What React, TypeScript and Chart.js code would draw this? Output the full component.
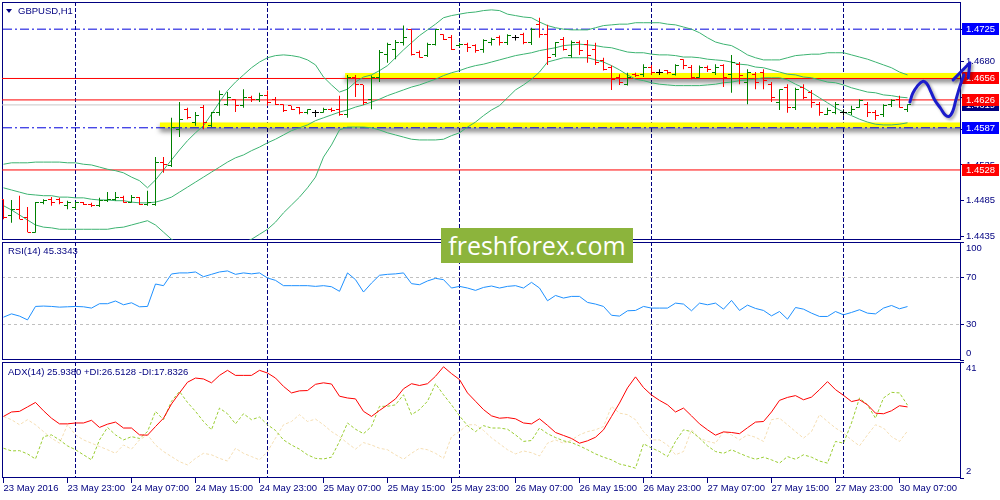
import React, { useEffect, useRef } from 'react';
import { Chart, registerables } from 'chart.js';

Chart.register(...registerables);

// ---------- OHLC (GBPUSD, H1) ----------
const OPEN = [1.4486,1.4464,1.4473,1.4461,1.4441,1.4482,1.4486,1.4487,1.4478,1.4476,
1.4482,1.4480,1.4478,1.4485,1.4486,1.4490,1.4483,1.4489,1.4479,1.4479,
1.4539,1.4534,1.4585,1.4612,1.4595,1.4616,1.4590,1.4608,1.4620,1.4626,
1.4618,1.4630,1.4626,1.4632,1.4627,1.4619,1.4618,1.4615,1.4609,1.4608,
1.4609,1.4613,1.4612,1.4606,1.4658,1.4647,1.4626,1.4658,1.4689,1.4696,
1.4707,1.4724,1.4693,1.4688,1.4704,1.4717,1.4714,1.4702,1.4704,1.4702,
1.4696,1.4706,1.4713,1.4706,1.4713,1.4717,1.4707,1.4731,1.4717,1.4689,
1.4711,1.4688,1.4706,1.4703,1.4696,1.4681,1.4671,1.4658,1.4648,1.4662,
1.4662,1.4671,1.4665,1.4667,1.4662,1.4682,1.4671,1.4658,1.4672,1.4664,
1.4674,1.4661,1.4676,1.4651,1.4661,1.4664,1.4648,1.4622,1.4643,1.4616,
1.4643,1.4637,1.4620,1.4606,1.4609,1.4608,1.4608,1.4616,1.4620,1.4609,
1.4606,1.4619,1.4627,1.4612];
const HIGH = [1.4487,1.4486,1.4492,1.4476,1.4483,1.4487,1.4490,1.4489,1.4485,1.4483,
1.4483,1.4482,1.4489,1.4497,1.4497,1.4492,1.4493,1.4490,1.4499,1.4546,
1.4546,1.4601,1.4623,1.4615,1.4609,1.4619,1.4609,1.4639,1.4637,1.4627,
1.4641,1.4632,1.4636,1.4639,1.4630,1.4620,1.4618,1.4616,1.4613,1.4612,
1.4615,1.4615,1.4632,1.4661,1.4661,1.4647,1.4660,1.4696,1.4706,1.4710,
1.4730,1.4725,1.4695,1.4706,1.4725,1.4718,1.4717,1.4706,1.4706,1.4704,
1.4711,1.4713,1.4716,1.4718,1.4717,1.4720,1.4727,1.4741,1.4731,1.4707,
1.4714,1.4709,1.4709,1.4710,1.4706,1.4685,1.4674,1.4662,1.4664,1.4664,
1.4676,1.4675,1.4669,1.4668,1.4676,1.4683,1.4675,1.4674,1.4674,1.4676,
1.4676,1.4689,1.4679,1.4669,1.4665,1.4669,1.4651,1.4641,1.4648,1.4643,
1.4648,1.4640,1.4623,1.4615,1.4623,1.4613,1.4618,1.4627,1.4623,1.4612,
1.4620,1.4627,1.4632,1.4620];
const LOW = [1.4459,1.4454,1.4459,1.4441,1.4440,1.4480,1.4478,1.4480,1.4473,1.4473,
1.4479,1.4476,1.4476,1.4483,1.4485,1.4482,1.4482,1.4479,1.4478,1.4478,
1.4524,1.4532,1.4574,1.4599,1.4590,1.4585,1.4588,1.4604,1.4618,1.4609,
1.4615,1.4623,1.4623,1.4618,1.4619,1.4609,1.4612,1.4606,1.4606,1.4602,
1.4608,1.4609,1.4604,1.4601,1.4630,1.4619,1.4613,1.4651,1.4678,1.4683,
1.4702,1.4688,1.4685,1.4686,1.4702,1.4710,1.4696,1.4700,1.4693,1.4692,
1.4692,1.4702,1.4702,1.4703,1.4709,1.4704,1.4703,1.4713,1.4675,1.4686,
1.4695,1.4685,1.4689,1.4678,1.4675,1.4667,1.4640,1.4647,1.4646,1.4658,
1.4658,1.4661,1.4661,1.4662,1.4660,1.4669,1.4655,1.4657,1.4665,1.4661,
1.4644,1.4636,1.4648,1.4620,1.4641,1.4641,1.4623,1.4612,1.4608,1.4612,
1.4627,1.4615,1.4604,1.4605,1.4606,1.4604,1.4605,1.4615,1.4602,1.4598,
1.4602,1.4616,1.4615,1.4609];
const CLOSE = [1.4461,1.4472,1.4459,1.4441,1.4482,1.4485,1.4482,1.4482,1.4483,1.4482,
1.4479,1.4478,1.4485,1.4487,1.4490,1.4482,1.4489,1.4480,1.4482,1.4539,
1.4535,1.4588,1.4599,1.4601,1.4604,1.4595,1.4608,1.4634,1.4629,1.4618,
1.4630,1.4626,1.4632,1.4622,1.4620,1.4611,1.4612,1.4609,1.4612,1.4608,
1.4612,1.4611,1.4606,1.4658,1.4648,1.4623,1.4658,1.4693,1.4703,1.4707,
1.4714,1.4689,1.4686,1.4703,1.4724,1.4711,1.4696,1.4704,1.4699,1.4695,
1.4709,1.4711,1.4706,1.4716,1.4713,1.4707,1.4725,1.4718,1.4686,1.4706,
1.4697,1.4706,1.4695,1.4688,1.4679,1.4668,1.4654,1.4650,1.4657,1.4660,
1.4672,1.4664,1.4665,1.4664,1.4674,1.4674,1.4657,1.4672,1.4668,1.4672,
1.4658,1.4678,1.4660,1.4664,1.4650,1.4653,1.4630,1.4640,1.4615,1.4640,
1.4629,1.4623,1.4608,1.4611,1.4619,1.4608,1.4612,1.4625,1.4609,1.4604,
1.4618,1.4625,1.4616,1.4619];

// ---------- Bollinger Bands ----------
const BB_UP = [1.4536,1.4538,1.4538,1.4538,1.4539,1.4539,1.4539,1.4539,1.4538,1.4538,
1.4536,1.4535,1.4532,1.4529,1.4527,1.4524,1.4518,1.4513,1.4503,1.4514,
1.4528,1.4542,1.4556,1.4569,1.4580,1.4590,1.4606,1.4623,1.4639,1.4651,
1.4661,1.4671,1.4679,1.4685,1.4688,1.4689,1.4688,1.4686,1.4682,1.4675,
1.4658,1.4647,1.4637,1.4641,1.4651,1.4658,1.4661,1.4667,1.4674,1.4685,
1.4696,1.4706,1.4716,1.4724,1.4732,1.4741,1.4744,1.4746,1.4748,1.4749,
1.4751,1.4752,1.4751,1.4746,1.4744,1.4742,1.4741,1.4735,1.4730,1.4727,
1.4725,1.4724,1.4724,1.4724,1.4727,1.4730,1.4731,1.4732,1.4732,1.4734,
1.4734,1.4734,1.4734,1.4732,1.4731,1.4728,1.4725,1.4720,1.4713,1.4707,
1.4704,1.4702,1.4696,1.4689,1.4685,1.4682,1.4682,1.4682,1.4685,1.4688,
1.4689,1.4690,1.4690,1.4692,1.4692,1.4692,1.4689,1.4686,1.4683,1.4679,
1.4675,1.4671,1.4665,1.4661];
const BB_MID = [1.4503,1.4500,1.4497,1.4494,1.4493,1.4492,1.4492,1.4490,1.4490,1.4489,
1.4489,1.4487,1.4486,1.4486,1.4485,1.4485,1.4483,1.4482,1.4482,1.4483,
1.4486,1.4490,1.4497,1.4504,1.4511,1.4518,1.4525,1.4532,1.4539,1.4545,
1.4549,1.4555,1.4560,1.4566,1.4571,1.4577,1.4583,1.4587,1.4591,1.4597,
1.4601,1.4605,1.4609,1.4612,1.4616,1.4619,1.4623,1.4627,1.4632,1.4636,
1.4640,1.4644,1.4647,1.4651,1.4655,1.4660,1.4664,1.4667,1.4671,1.4674,
1.4676,1.4679,1.4682,1.4685,1.4688,1.4690,1.4692,1.4695,1.4697,1.4699,
1.4702,1.4703,1.4704,1.4703,1.4702,1.4700,1.4699,1.4696,1.4693,1.4692,
1.4692,1.4690,1.4689,1.4689,1.4688,1.4686,1.4686,1.4685,1.4683,1.4682,
1.4681,1.4679,1.4676,1.4675,1.4672,1.4671,1.4668,1.4665,1.4662,1.4661,
1.4658,1.4657,1.4654,1.4651,1.4650,1.4647,1.4643,1.4640,1.4637,1.4636,
1.4633,1.4632,1.4630,1.4629];
const BB_LOW = [1.4478,1.4472,1.4465,1.4458,1.4451,1.4448,1.4447,1.4445,1.4445,1.4445,
1.4445,1.4445,1.4445,1.4445,1.4447,1.4448,1.4451,1.4454,1.4457,1.4451,
1.4441,1.4431,1.4424,1.4420,1.4417,1.4416,1.4416,1.4417,1.4419,1.4422,
1.4426,1.4431,1.4438,1.4445,1.4455,1.4468,1.4479,1.4490,1.4503,1.4518,
1.4546,1.4563,1.4584,1.4588,1.4588,1.4588,1.4587,1.4584,1.4580,1.4577,
1.4574,1.4571,1.4570,1.4570,1.4570,1.4571,1.4576,1.4580,1.4588,1.4595,
1.4604,1.4612,1.4618,1.4629,1.4640,1.4647,1.4655,1.4665,1.4679,1.4682,
1.4685,1.4685,1.4685,1.4685,1.4682,1.4679,1.4674,1.4668,1.4661,1.4655,
1.4653,1.4650,1.4648,1.4647,1.4646,1.4646,1.4646,1.4646,1.4647,1.4648,
1.4650,1.4651,1.4653,1.4654,1.4655,1.4657,1.4657,1.4657,1.4654,1.4648,
1.4643,1.4636,1.4629,1.4622,1.4615,1.4609,1.4604,1.4599,1.4595,1.4592,
1.4591,1.4591,1.4592,1.4594];

// ---------- RSI(14) ----------
const RSI = [36.3,39.1,37.2,34.0,45.4,45.7,45.4,44.8,45.1,45.4,
45.1,44.0,47.7,47.7,50.0,46.8,48.5,45.1,45.4,64.4,
63.0,72.9,73.8,73.8,74.6,70.6,72.6,74.6,75.5,72.6,
73.8,73.0,73.8,69.5,67.5,63.0,63.0,63.0,63.0,62.4,
63.0,62.1,58.2,73.8,68.1,57.6,65.2,71.8,72.6,73.0,
73.8,64.7,63.8,67.0,69.2,68.1,61.0,62.4,61.0,59.0,
61.5,62.7,61.0,62.4,63.0,61.0,65.8,61.0,50.2,54.7,
52.5,53.9,53.9,48.8,47.4,45.4,37.9,37.2,41.7,42.0,
45.4,44.0,44.0,44.0,48.2,47.4,41.7,48.2,46.8,48.2,
43.1,50.5,42.0,46.5,43.7,42.0,37.4,41.1,34.6,44.5,
43.1,39.7,36.9,36.9,41.1,38.3,40.3,42.6,39.7,39.1,
44.0,46.2,43.4,45.3];

// ---------- ADX(14), +DI, -DI ----------
const ADX = [22.7,24.2,24.4,25.9,27.4,24.6,22.1,20.2,20.2,20.5,
20.5,21.4,19.0,20.1,20.8,18.8,18.8,16.5,16.4,19.3,
22.1,26.9,30.6,34.2,35.6,35.3,34.0,36.5,38.2,36.5,
36.5,36.5,38.2,37.3,35.6,32.8,30.6,31.3,31.4,33.5,
34.0,33.6,29.5,28.9,28.6,24.4,22.7,24.7,26.6,28.6,
32.0,33.7,33.1,33.7,36.2,39.4,37.1,35.1,30.6,27.8,
25.0,22.9,22.1,22.3,21.9,20.5,20.2,21.9,19.7,17.3,
16.3,15.3,13.7,14.5,15.7,18.2,22.7,27.2,32.3,36.0,
32.4,29.9,28.1,26.6,24.2,25.5,22.9,20.2,18.2,16.4,
17.5,17.3,16.9,18.9,20.8,21.0,24.2,28.1,29.1,29.7,
28.3,29.2,31.7,34.4,31.7,29.8,27.7,28.3,26.6,23.8,
23.6,24.6,26.3,25.9];
const PLUS_DI = [12.0,11.1,11.2,10.1,8.4,15.9,16.5,14.8,12.8,11.5,
9.8,8.1,14.8,19.0,16.5,14.8,15.9,15.3,17.6,24.4,
21.6,27.8,31.1,27.4,24.4,21.0,18.2,25.5,23.6,20.2,
23.6,21.6,22.5,19.9,18.0,14.8,13.1,11.7,9.8,8.6,
8.4,9.0,14.3,20.5,18.4,16.9,19.3,26.1,26.1,26.6,
30.0,23.3,25.0,27.8,33.7,30.0,26.6,22.9,19.6,17.6,
19.6,18.8,18.8,18.4,16.5,14.3,14.6,18.8,16.9,15.6,
14.5,13.9,12.8,11.5,10.1,9.0,8.1,6.7,6.1,5.3,
13.5,12.1,10.9,9.2,14.3,18.2,17.6,15.4,12.8,10.9,
10.3,11.5,10.3,9.2,8.3,9.0,8.1,7.0,9.2,8.3,
9.8,9.0,7.7,7.0,14.3,13.7,20.5,28.9,26.6,22.1,
28.9,30.8,30.6,26.5];
const MINUS_DI = [22.7,21.6,19.9,21.6,19.9,17.6,15.4,13.7,19.9,16.5,
14.8,13.7,12.6,11.5,10.3,13.1,11.7,14.8,16.5,13.1,
10.9,9.2,7.5,6.4,8.6,10.3,9.8,8.6,7.7,12.0,
10.3,9.2,8.1,10.9,15.4,19.9,21.0,23.3,21.0,21.8,
19.9,17.6,15.9,13.7,11.7,13.9,13.1,12.0,11.5,9.8,
8.3,10.3,12.0,11.5,10.3,8.6,15.9,17.6,19.9,19.9,
18.0,15.5,13.5,11.5,10.1,11.1,10.5,9.4,13.7,14.8,
13.7,14.8,16.5,17.6,18.2,19.3,26.1,23.8,23.3,21.6,
17.6,14.8,14.8,13.1,9.8,10.9,18.2,15.4,14.3,13.7,
17.6,16.5,14.8,16.5,15.7,14.3,21.6,22.1,19.9,17.6,
15.4,17.6,23.3,21.0,18.8,17.1,14.8,12.8,16.5,19.9,
18.8,15.9,14.3,17.8];

// ---------- axes / levels / annotations ----------
const TIME_TICKS = [0, 8, 16, 24, 32, 40, 48, 56, 64, 72, 80, 88, 96, 104, 112];
const TIME_LABELS = ['23 May 2016', '23 May 23:00', '24 May 07:00', '24 May 15:00', '24 May 23:00',
  '25 May 07:00', '25 May 15:00', '25 May 23:00', '26 May 07:00', '26 May 15:00', '26 May 23:00',
  '27 May 07:00', '27 May 15:00', '27 May 23:00', '30 May 07:00'];
const DAY_GRID = [9, 33, 57, 81, 105];
const PRICE_TICKS = [1.4725, 1.4680, 1.4630, 1.4585, 1.4535, 1.4485, 1.4435];
const RSI_TICKS = [100, 70, 30, 0];
const RSI_LEVELS = [70, 30];
const ADX_TICKS = [41, 2];
const RED_LEVELS = [1.4656, 1.4626, 1.4528];
const BLUE_LEVELS = [1.4725, 1.4587];
const BID = 1.4619;
const ZONE_PRICES = [1.4660, 1.4591];
const ZONE_STARTS = [42.7, 19.55];
const TAG_VALUES = [1.4725, 1.4587, 1.4619, 1.4656, 1.4626, 1.4528];
const TAG_KINDS = ['blue', 'blue', 'bid', 'red', 'red', 'red'];
const ARROW_X = [113.3, 113.65, 114.2, 114.9, 115.4, 115.9, 116.4, 117.15, 117.7, 118.2, 118.65, 119.05, 119.55, 120.05, 120.5, 120.8];
const ARROW_Y = [1.4623, 1.4635, 1.4645, 1.4652, 1.4649, 1.4638, 1.4626, 1.4614, 1.4605, 1.4603, 1.4610, 1.4626, 1.4645, 1.4661, 1.4672, 1.4678];
const HEAD_X = [118.7, 120.8, 120.6];
const HEAD_Y = [1.4654, 1.4678, 1.4657];

// ---------- styles ----------
const NAVY = '#000080';
const FONT = "'Liberation Sans', Arial, sans-serif";
const GREEN = '#008000';
const RED = '#ff0000';
const BB_COLOR = '#3cb371';
const TAG_COLORS: Record<string, string> = { blue: '#0000ff', bid: '#000080', red: '#ff0000' };
const X_MIN = -0.1875;
const X_MAX = 119.5625;
const P_MIN = 1.443;
const P_MAX = 1.4763;

const barColor = (i: number) => (CLOSE[i] > OPEN[i] ? GREEN : CLOSE[i] < OPEN[i] ? RED : '#000000');
const pts = (arr: number[]) => arr.map((v, i) => ({ x: i, y: v }));
const hline = (v: number) => [{ x: X_MIN - 2, y: v }, { x: X_MAX + 2, y: v }];

const framePlugin = {
  id: 'frame',
  beforeDatasetsDraw(chart: any) {
    const { ctx, chartArea: a } = chart;
    ctx.save();
    ctx.strokeStyle = NAVY;
    ctx.lineWidth = 1;
    ctx.strokeRect(a.left + 0.5, a.top + 0.5, a.right - a.left, a.bottom - a.top - 1);
    ctx.restore();
  },
};

const shadowPlugin = {
  id: 'shadow',
  beforeDatasetDraw(chart: any, args: any) {
    const ds = chart.data.datasets[args.index];
    if (!ds.shadow) return;
    const ctx = chart.ctx;
    ctx.save();
    ctx.shadowColor = ds.shadow.color;
    ctx.shadowBlur = ds.shadow.blur;
    ctx.shadowOffsetX = ds.shadow.dx;
    ctx.shadowOffsetY = ds.shadow.dy;
  },
  afterDatasetDraw(chart: any, args: any) {
    const ds = chart.data.datasets[args.index];
    if (!ds.shadow) return;
    chart.ctx.restore();
  },
};

const ohlcPlugin = {
  id: 'ohlc',
  afterDatasetDraw(chart: any, args: any) {
    const ds = chart.data.datasets[args.index];
    if (!ds.ohlc) return;
    const { ctx, chartArea: a } = chart;
    const xs = chart.scales.x;
    const ys = chart.scales.y;
    ctx.save();
    ctx.beginPath();
    ctx.rect(a.left, a.top, a.right - a.left, a.bottom - a.top);
    ctx.clip();
    for (let i = 0; i < OPEN.length; i++) {
      const x = Math.round(xs.getPixelForValue(i) - 0.5);
      ctx.fillStyle = barColor(i);
      ctx.fillRect(x - 3, Math.round(ys.getPixelForValue(OPEN[i]) - 0.5), 3, 1);
      ctx.fillRect(x + 1, Math.round(ys.getPixelForValue(CLOSE[i]) - 0.5), 3, 1);
    }
    ctx.restore();
  },
};

const tagPlugin = {
  id: 'tags',
  beforeDatasetsDraw(chart: any) {
    const { ctx, chartArea: a } = chart;
    const ys = chart.scales.y;
    ctx.save();
    ctx.font = `9.5px ${FONT}`;
    ctx.textBaseline = 'middle';
    ctx.textAlign = 'left';
    TAG_VALUES.forEach((v, k) => {
      const y = Math.round(ys.getPixelForValue(v));
      ctx.fillStyle = TAG_COLORS[TAG_KINDS[k]];
      ctx.fillRect(a.right + 2, y - 6, 37, 12);
      ctx.fillStyle = '#ffffff';
      ctx.fillText(v.toFixed(4), a.right + 6, y + 0.5);
    });
    ctx.restore();
  },
};

const baseOptions = (padding: any) => ({
  responsive: false,
  animation: false,
  devicePixelRatio: 1,
  events: [],
  layout: { padding },
  plugins: { legend: { display: false }, tooltip: { enabled: false } },
  elements: { point: { radius: 0 }, line: { tension: 0, borderWidth: 1 } },
});

const gridX = () => ({
  type: 'linear',
  position: 'bottom',
  min: X_MIN,
  max: X_MAX,
  offset: false,
  afterBuildTicks: (s: any) => { s.ticks = DAY_GRID.map((v) => ({ value: v })); },
  afterFit: (s: any) => { s.height = 0; s.paddingLeft = 0; s.paddingRight = 0; },
  ticks: { display: false },
  grid: { color: NAVY, lineWidth: 1, drawTicks: false, offset: false },
  border: { display: false, dash: [4, 2] },
});

const tickFont = { family: FONT, size: 9.5, lineHeight: 1.4 };

const rightY = (min: number, max: number, ticks: number[], cb: (v: number) => any, grid: any = {}, dash: number[] = []) => ({
  type: 'linear',
  position: 'right',
  min,
  max,
  beginAtZero: false,
  afterBuildTicks: (s: any) => { s.ticks = ticks.map((v) => ({ value: v })); },
  afterFit: (s: any) => { s.width = 40; s.paddingTop = 0; s.paddingBottom = 0; },
  ticks: { autoSkip: false, padding: 2, color: NAVY, font: tickFont, callback: (v: any) => cb(Number(v)) },
  grid: { drawOnChartArea: false, drawTicks: true, tickLength: 4, tickColor: NAVY, color: NAVY, ...grid },
  border: { display: false, dash },
});

const lineDs = (data: any, color: string, order: number, extra: any = {}) => ({
  type: 'line', data, borderColor: color, borderWidth: 1, pointRadius: 0, fill: false, order, ...extra,
});

function mainConfig(): any {
  const datasets: any[] = [
    lineDs(ARROW_X.map((x, i) => ({ x, y: ARROW_Y[i] })), '#1c1ccc', 0, {
      borderWidth: 3, tension: 0.4, clip: false, borderCapStyle: 'round', borderJoinStyle: 'round',
      shadow: { color: 'rgba(0,0,0,0.35)', blur: 3, dx: 2, dy: 2 },
    }),
    lineDs(HEAD_X.map((x, i) => ({ x, y: HEAD_Y[i] })), '#1c1ccc', 0, {
      borderWidth: 3, clip: false, borderCapStyle: 'round', borderJoinStyle: 'round',
      shadow: { color: 'rgba(0,0,0,0.35)', blur: 3, dx: 2, dy: 2 },
    }),
    {
      type: 'bar',
      data: HIGH.map((h, i) => ({ x: i, y: [LOW[i], h] })),
      backgroundColor: HIGH.map((_, i) => barColor(i)),
      borderWidth: 0,
      barThickness: 1,
      inflateAmount: 0,
      order: 1,
      ohlc: true,
    },
    lineDs(pts(BB_UP), BB_COLOR, 2),
    lineDs(pts(BB_MID), BB_COLOR, 2),
    lineDs(pts(BB_LOW), BB_COLOR, 2),
    ...RED_LEVELS.map((v) => lineDs(hline(v), RED, 3)),
    ...BLUE_LEVELS.map((v) => lineDs(hline(v), '#0000dd', 3, { borderDash: [9, 3, 2, 3] })),
    lineDs(hline(BID), '#c8c8c8', 3),
    ...ZONE_PRICES.map((v, k) => lineDs([{ x: ZONE_STARTS[k], y: v }, { x: X_MAX + 2, y: v }], '#ffff00', 4, {
      borderWidth: 5, borderCapStyle: 'butt',
      shadow: { color: 'rgba(0,0,0,0.55)', blur: 5, dx: 0, dy: 4 },
    })),
  ];
  return {
    type: 'line',
    data: { datasets },
    options: {
      ...baseOptions({ left: 2, top: 2, right: 0, bottom: 260 }),
      scales: {
        x: gridX(),
        y: rightY(P_MIN, P_MAX, PRICE_TICKS, (v) => v.toFixed(4)),
      },
    },
    plugins: [framePlugin, tagPlugin, shadowPlugin, ohlcPlugin],
  };
}

function rsiConfig(): any {
  return {
    type: 'line',
    data: { datasets: [lineDs(pts(RSI), '#1e90ff', 0)] },
    options: {
      ...baseOptions({ left: 2, top: 242, right: 0, bottom: 140 }),
      scales: {
        x: gridX(),
        y: rightY(0, 100, RSI_TICKS,
          (v) => (v === 100 ? ['', '100'] : v === 0 ? ['0', ''] : String(v)),
          {
            drawOnChartArea: true,
            color: (c: any) => (c.tick && RSI_LEVELS.includes(c.tick.value) ? '#c0c0c0' : 'rgba(0,0,0,0)'),
          },
          [3, 3]),
      },
    },
    plugins: [framePlugin],
  };
}

function adxConfig(): any {
  return {
    type: 'line',
    data: {
      datasets: [
        lineDs(pts(ADX), '#ff0000', 0),
        lineDs(pts(PLUS_DI), '#9acd32', 1, { borderDash: [3, 2] }),
        lineDs(pts(MINUS_DI), '#f5deb3', 2, { borderDash: [3, 2] }),
      ],
    },
    options: {
      ...baseOptions({ left: 2, top: 362, right: 0, bottom: 0 }),
      scales: {
        x: gridX(),
        xl: {
          type: 'linear',
          position: 'bottom',
          min: X_MIN,
          max: X_MAX,
          offset: false,
          afterBuildTicks: (s: any) => { s.ticks = TIME_TICKS.map((v) => ({ value: v })); },
          afterFit: (s: any) => { s.height = 22; s.paddingLeft = 0; s.paddingRight = 0; },
          ticks: {
            autoSkip: false, maxRotation: 0, minRotation: 0, align: 'start', padding: 0,
            color: NAVY, font: { family: FONT, size: 9.5 },
            callback: (v: any) => {
              const k = TIME_TICKS.indexOf(Number(v));
              return k >= 0 ? TIME_LABELS[k] : '';
            },
          },
          grid: { drawOnChartArea: false, drawTicks: true, tickLength: 5, tickColor: NAVY, color: NAVY, offset: false },
          border: { display: false },
        },
        y: rightY(2, 41, ADX_TICKS, (v) => (v === 41 ? ['', '41'] : ['2', ''])),
      },
    },
    plugins: [framePlugin],
  };
}

const textStyle: React.CSSProperties = {
  position: 'absolute',
  fontFamily: FONT,
  fontSize: '9.5px',
  lineHeight: '12px',
  color: NAVY,
  whiteSpace: 'nowrap',
};

export default function App() {
  const mainRef = useRef<HTMLCanvasElement>(null);
  const rsiRef = useRef<HTMLCanvasElement>(null);
  const adxRef = useRef<HTMLCanvasElement>(null);

  useEffect(() => {
    const charts = [
      new Chart(mainRef.current as HTMLCanvasElement, mainConfig()),
      new Chart(rsiRef.current as HTMLCanvasElement, rsiConfig()),
      new Chart(adxRef.current as HTMLCanvasElement, adxConfig()),
    ];
    return () => charts.forEach((c) => c.destroy());
  }, []);

  const cv: React.CSSProperties = { position: 'absolute', left: 0, top: 0, width: 1000, height: 500 };

  return (
    <div style={{ position: 'absolute', left: 0, top: 0, width: 1000, height: 500, background: '#ffffff', overflow: 'hidden' }}>
      <canvas ref={adxRef} width={1000} height={500} style={cv} />
      <canvas ref={rsiRef} width={1000} height={500} style={cv} />
      <canvas ref={mainRef} width={1000} height={500} style={cv} />
      <div style={{ position: 'absolute', left: 6, top: 9, width: 0, height: 0, borderLeft: '3.5px solid transparent', borderRight: '3.5px solid transparent', borderTop: '4px solid ' + NAVY }} />
      <div style={{ ...textStyle, left: 18, top: 5 }}>GBPUSD,H1</div>
      <div style={{ ...textStyle, left: 8, top: 245 }}>RSI(14) 45.3343</div>
      <div style={{ ...textStyle, left: 8, top: 366 }}>ADX(14) 25.9380 +DI:26.5128 -DI:17.8326</div>
      <div style={{
        position: 'absolute', left: 441, top: 228, width: 192, height: 35, background: '#8cb43c',
        color: '#ffffff', fontFamily: "'Open Sans', sans-serif", fontSize: '25px', lineHeight: '34px', textAlign: 'center',
      }}>freshforex.com</div>
    </div>
  );
}
